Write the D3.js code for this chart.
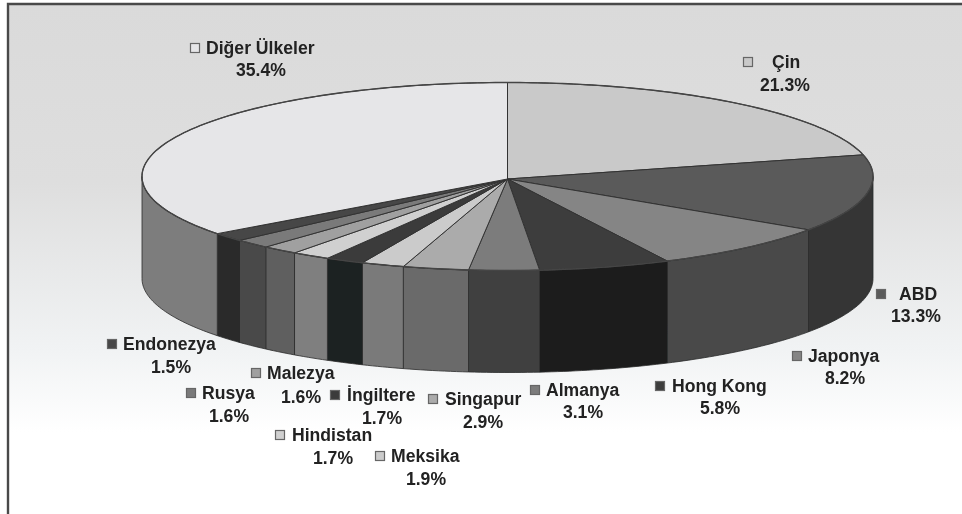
<!DOCTYPE html>
<html><head><meta charset="utf-8">
<script src="https://cdn.jsdelivr.net/npm/d3@7/dist/d3.min.js"></script>
<style>html,body{margin:0;padding:0;background:#fff;overflow:hidden}
svg{display:block}
text{font-family:"Liberation Sans",Arial,sans-serif;font-weight:bold;font-size:17.6px;fill:#222}</style>
</head><body><svg id="c" width="962" height="514"></svg>
<script>
const categories=["Çin","ABD","Japonya","Hong Kong","Almanya","Singapur","Meksika","İngiltere","Hindistan","Malezya","Rusya","Endonezya","Diğer Ülkeler"];
const values=[21.3,13.3,8.2,5.8,3.1,2.9,1.9,1.7,1.7,1.6,1.6,1.5,35.4];
const topColors=["#c9c9c9","#5a5a5a","#858585","#3d3d3d","#7c7c7c","#ababab","#cbcbcb","#3a3a3a","#d0d0d0","#a0a0a0","#7a7a7a","#474747","#e6e6e8"];
const sideColors=["#7a7a7a","#343636","#484a4a","#1b1c1c","#3f4141","#6b6b6b","#7a7a7a","#1e2020","#7f7f7f","#5e5e5e","#4a4a4a","#2a2c2c","#7d7d7d"];
// label layout: swatch x, name line y, percent centre x, percent line y
const labelSwatchX=[748,881,797,660,535,433,380,335,280,256,191,112,195];
const labelNameX=[772,899,808,672,546,445,391,347,292,267,202,123,206];
const labelNameY=[62,294,356,386,390,399,456,395,435,373,393,344,48];
const labelPctX=[785,916,845,720,583,483,426,382,333,301,229,171,261];
const labelPctY=[85,316,378,408,412,422,479,418,458,397,416,367,70];

const svg=d3.select("#c");
const defs=svg.append("defs");
const g=defs.append("linearGradient").attr("id","bg").attr("x1",0).attr("y1",0).attr("x2",0).attr("y2",1);
[[0,"#dadada"],[.35,"#dedede"],[.68,"#f1f3f4"],[.84,"#ffffff"],[1,"#ffffff"]].forEach(s=>g.append("stop").attr("offset",s[0]).attr("stop-color",s[1]));
const f=defs.append("filter").attr("id","soft").attr("x","-5%").attr("y","-5%").attr("width","110%").attr("height","110%");
f.append("feGaussianBlur").attr("stdDeviation",0.6);

svg.append("rect").attr("x",0).attr("y",0).attr("width",962).attr("height",514).attr("fill","#fff");
const root=svg.append("g").attr("filter","url(#soft)");
root.append("rect").attr("x",8).attr("y",4).attr("width",954).attr("height",510).attr("fill","url(#bg)");
root.append("path").attr("d","M8,514V4H962").attr("fill","none").attr("stroke","#4a4a4a").attr("stroke-width",2.4);

const depth=102;
const px=d3.scaleLinear().domain([-1,1]).range([142,873]);
const py=d3.scaleLinear().domain([-1,1]).range([82.5,270.5]);
const apexShift=2.5;
const pie=d3.pie().sort(null).value(d=>d).startAngle(0).endAngle(2*Math.PI);
const arcs=pie(values);
const rim=(a,dy=0)=>[px(Math.sin(a)),py(-Math.cos(a))+dy];
const samples=(a0,a1,dy=0)=>{const n=Math.max(2,Math.ceil((a1-a0)*60));return d3.range(n+1).map(i=>rim(a0+(a1-a0)*i/n,dy));};
const line=d3.line();

// sides: visible front half only
const sides=root.append("g");
arcs.forEach((d,i)=>{
  const a0=Math.max(d.startAngle,Math.PI/2),a1=Math.min(d.endAngle,Math.PI*1.5);
  if(a1<=a0)return;
  const pts=samples(a0,a1,0).concat(samples(a0,a1,depth).reverse());
  sides.append("path").attr("d",line(pts)+"Z").attr("fill",sideColors[i]).attr("stroke","#2a2a2a").attr("stroke-width",0.8);
});
// tops
const tops=root.append("g");
arcs.forEach((d,i)=>{
  const pts=[[px(0),py(0)+apexShift]].concat(samples(d.startAngle,d.endAngle));
  tops.append("path").attr("d",line(pts)+"Z").attr("fill",topColors[i]).attr("stroke","#333").attr("stroke-width",1);
});
root.append("path").attr("d",line(samples(0,2*Math.PI))+"Z").attr("fill","none").attr("stroke","#444").attr("stroke-width",1.4);

// labels
const lab=root.append("g");
categories.forEach((c,i)=>{
  lab.append("rect").attr("x",labelSwatchX[i]-4.5).attr("y",labelNameY[i]-4.5).attr("width",9).attr("height",9)
    .attr("fill",topColors[i]).attr("stroke","#666").attr("stroke-width",1.2);
  lab.append("text").attr("x",labelNameX[i]).attr("y",labelNameY[i]+6).text(c);
  lab.append("text").attr("x",labelPctX[i]).attr("y",labelPctY[i]+6).attr("text-anchor","middle").text(d3.format(".1f")(values[i])+"%");
});
</script></body></html>
